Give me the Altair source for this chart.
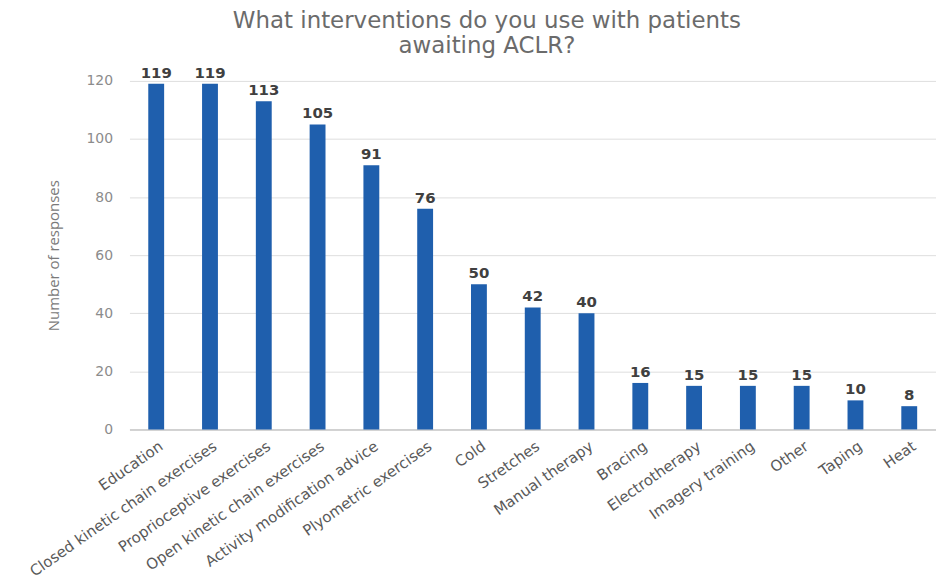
import altair as alt
import pandas as pd

interventions = [
    "Education", "Closed kinetic chain exercises", "Proprioceptive exercises",
    "Open kinetic chain exercises", "Activity modification advice",
    "Plyometric exercises", "Cold", "Stretches", "Manual therapy", "Bracing",
    "Electrotherapy", "Imagery training", "Other", "Taping", "Heat",
]
responses = [119, 119, 113, 105, 91, 76, 50, 42, 40, 16, 15, 15, 15, 10, 8]

df = pd.DataFrame({"intervention": interventions, "responses": responses})

x = alt.X(
    "intervention:N",
    sort=interventions,
    title=None,
    scale=alt.Scale(paddingInner=0.705, paddingOuter=0.35),
    axis=alt.Axis(
        labelAngle=-35, labelFont="DejaVu Sans", labelFontSize=15,
        labelColor="#595959", labelLimit=400, labelPadding=9, labelOffset=1,
        ticks=False, domainColor="#c8c8c8", domainWidth=1.5, grid=False,
    ),
)
y = alt.Y(
    "responses:Q",
    title="Number of responses",
    scale=alt.Scale(domain=[0, 120], nice=False),
    axis=alt.Axis(
        values=[0, 20, 40, 60, 80, 100, 120], ticks=False, domain=False,
        labelFont="DejaVu Sans", labelFontSize=14, labelColor="#8c8c8c",
        labelPadding=17, gridColor="#dedede", gridWidth=1,
        titleFont="Open Sans", titleFontSize=15, titleFontWeight="normal",
        titleColor="#7a7a7a", titlePadding=25,
    ),
)

bars = alt.Chart(df).mark_bar(color="#1f5fad").encode(x=x, y=y)
labels = alt.Chart(df).mark_text(
    dy=-11, font="DejaVu Sans", fontSize=15, fontWeight="bold", color="#404040"
).encode(x=x, y=y, text="responses:Q")

chart = (bars + labels).properties(
    width=810,
    height=350,
    autosize=alt.AutoSizeParams(type="none"),
    padding={"left": 130, "top": 80, "right": 0, "bottom": 156},
    title=alt.Title(
        ["What interventions do you use with patients", "awaiting ACLR?"],
        font="DejaVu Sans", fontSize=23, fontWeight="normal", color="#6b6b6b",
        anchor="middle", dx=-46, offset=8, lineHeight=25,
    ),
).configure_view(stroke=None)

chart.save("out.html", embed_options={"renderer": "svg", "actions": False})
